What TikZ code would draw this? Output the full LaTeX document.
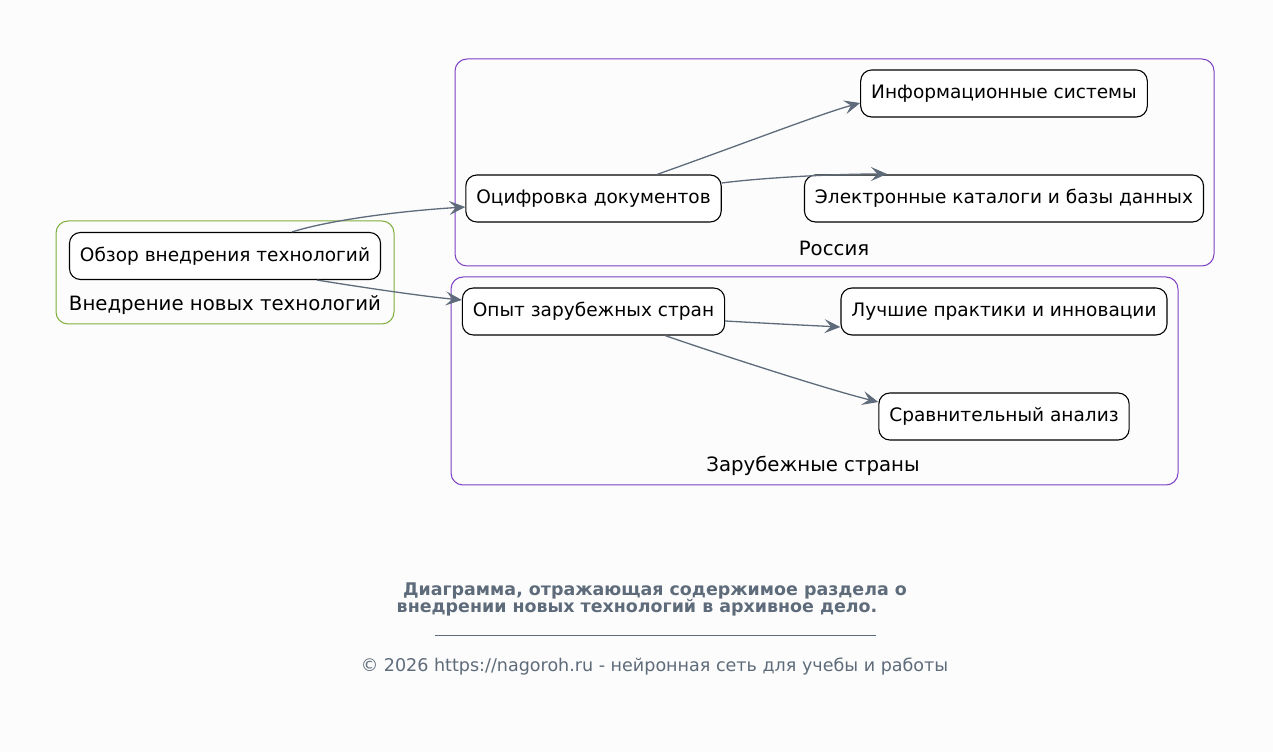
\documentclass[tikz,border=0pt]{standalone}
\usepackage{fontspec}
\setmainfont{DejaVu Sans}
\usetikzlibrary{arrows.meta}
\definecolor{edgegray}{HTML}{5E6B7A}
\definecolor{clustergreen}{HTML}{7FAE3A}
\definecolor{clusterpurple}{HTML}{7B3FC4}
\definecolor{bgwhite}{HTML}{FCFCFC}
\tikzset{
  topic/.style={draw=black,line width=1.1bp,rounded corners=11bp,minimum height=47bp,inner xsep=10.5bp,fill=white,font=\fontsize{18.6}{22}\selectfont},
  cluster/.style={draw,rounded corners=12bp,line width=1bp},
  clusterlabel/.style={font=\fontsize{19.8}{23}\selectfont},
  link/.style={edgegray,line width=1.3bp,-{Stealth[length=16bp,width=14bp,inset=6.5bp]}},
}
\begin{document}
\begin{tikzpicture}[line join=bevel,]
%%
\fill [bgwhite] (0bp,0bp) rectangle (1273bp,752bp);
\useasboundingbox (0bp,0bp) rectangle (1273bp,752bp);
%
\node (cluster_0) at (225bp,479.5bp) [cluster,draw=clustergreen,minimum width=338bp,minimum height=103bp] {};
  \node (cluster_1) at (834.5bp,589.5bp) [cluster,draw=clusterpurple,minimum width=759bp,minimum height=207bp] {};
  \node (cluster_2) at (814.5bp,371bp) [cluster,draw=clusterpurple,minimum width=727bp,minimum height=208bp] {};
  \node (label_0) at (225bp,447bp) [clusterlabel] {Внедрение новых технологий};
  \node (label_1) at (834bp,504bp) [clusterlabel] {Россия};
  \node (label_2) at (813bp,286bp) [clusterlabel] {Зарубежные страны};
%
\node (node_0) at (225bp,496bp) [topic] {Обзор внедрения технологий};
  \node (node_1) at (593.5bp,553.5bp) [topic] {Оцифровка документов};
  \node (node_2) at (1004bp,658.5bp) [topic] {Информационные системы};
  \node (node_3) at (1004bp,553.5bp) [topic] {Электронные каталоги и базы данных};
  \node (node_4) at (593.5bp,440.5bp) [topic] {Опыт зарубежных стран};
  \node (node_5) at (1004bp,440.5bp) [topic] {Лучшие практики и инновации};
  \node (node_6) at (1004bp,335.5bp) [topic] {Сравнительный анализ};
%
\coordinate (tip_3) at (887bp,578bp);
  \draw [link] (node_0.north)++(67bp,0bp) ..controls (330bp,532bp) and (400bp,541bp)  .. (node_1.west |- 0,545bp);
  \draw [link] (node_0.south)++(92bp,0bp) ..controls (360bp,465bp) and (420bp,456bp)  .. (node_4.west |- 0,452bp);
  \draw [link] (node_1.north)++(63.5bp,0bp) ..controls (740bp,607bp) and (820bp,638bp)  .. (node_2.west |- 0,649bp);
  \draw [link] (node_1.east |- 0,569bp) ..controls (760bp,574bp) and (830bp,578bp)  .. (tip_3);
  \draw [link] (node_4.east |- 0,431bp) ..controls (760bp,429bp) and (800bp,427bp)  .. (node_5.west |- 0,425bp);
  \draw [link] (node_4.south)++(71.5bp,0bp) ..controls (730bp,394bp) and (830bp,362bp)  .. (node_6.west |- 0,350bp);
%
\node (title_0) at (655bp,161.5bp) [text=edgegray,font=\bfseries\fontsize{17.5}{20}\selectfont] {Диаграмма, отражающая содержимое раздела о};
  \node (title_1) at (637bp,144.5bp) [text=edgegray,font=\bfseries\fontsize{17.5}{20}\selectfont] {внедрении новых технологий в архивное дело.};
  \draw [edgegray,line width=0.8bp] (435bp,117bp) -- (876bp,117bp);
  \node (footer_0) at (654.5bp,85bp) [text=edgegray,font=\fontsize{17.6}{20}\selectfont] {© 2026 https://nagoroh.ru - нейронная сеть для учебы и работы};
%
\end{tikzpicture}
\end{document}
